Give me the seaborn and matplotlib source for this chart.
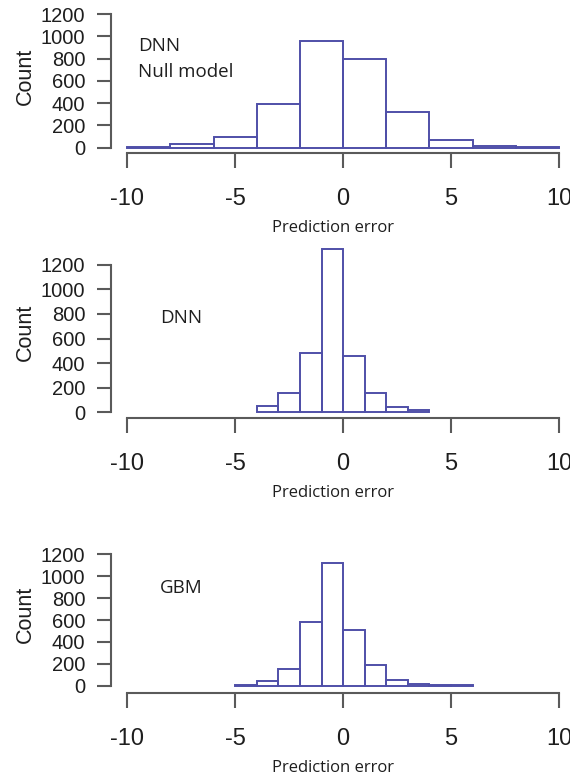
import matplotlib
matplotlib.use("Agg")
import matplotlib.pyplot as plt
import seaborn as sns
import numpy as np
import pandas as pd

# Histogram bins and counts of the prediction errors for each model
null_edges = [-10, -8, -6, -4, -2, 0, 2, 4, 6, 8, 10]
null_counts = [5, 30, 100, 390, 960, 800, 320, 70, 15, 5]

dnn_edges = [-4, -3, -2, -1, 0, 1, 2, 3, 4]
dnn_counts = [55, 160, 480, 1330, 455, 160, 40, 15]

gbm_edges = [-5, -4, -3, -2, -1, 0, 1, 2, 3, 4, 5, 6]
gbm_counts = [10, 40, 150, 580, 1120, 510, 185, 50, 20, 5, 5]

x_ticks = [-10, -5, 0, 5, 10]
y_ticks = [0, 200, 400, 600, 800, 1000, 1200]
panel_titles = [["DNN", "Null model"], ["DNN"], ["GBM"]]

W, H = 570, 778
BAR = "#4f4fa8"
AXIS = "#5a5a5a"
TEXT = "#1e1e1e"
PX = 72 / 100  # points per pixel

sns.set_style("white")
plt.rcParams["font.family"] = ["Liberation Sans", "DejaVu Sans"]
plt.rcParams["axes.unicode_minus"] = False

fig = plt.figure(figsize=(W / 100, H / 100), dpi=100)

# pixel layout of each panel: y of 1200 tick, y of 0 tick, x-axis line, label anchors
layout = [
    dict(top=14.0, zero=147.7, xaxis=153.3, count_y=76, title_x=138, title_y=[51, 77]),
    dict(top=264.7, zero=412.3, xaxis=418.3, count_y=332, title_x=160, title_y=[323]),
    dict(top=554.3, zero=685.7, xaxis=693.3, count_y=614, title_x=160, title_y=[593]),
]
data = [(null_edges, null_counts), (dnn_edges, dnn_counts), (gbm_edges, gbm_counts)]

x_left, x_right = 127.3, 559.0
y_spine_x = 110.7

for (edges, counts), lay, titles in zip(data, layout, panel_titles):
    ax = fig.add_axes([x_left / W, 1 - lay["zero"] / H,
                       (x_right - x_left) / W, (lay["zero"] - lay["top"]) / H])
    e = np.asarray(edges, dtype=float)
    df = pd.DataFrame({"error": (e[:-1] + e[1:]) / 2, "n": counts})
    sns.histplot(data=df, x="error", weights="n", bins=list(edges), ax=ax, fill=False,
                 color=BAR, linewidth=1.4, element="bars")
    for p in ax.patches:
        p.set_clip_on(False)

    ax.set_xlim(-10, 10)
    ax.set_ylim(0, 1200)
    ax.set_xticks(x_ticks)
    ax.set_yticks(y_ticks)
    ax.set_xlabel("")
    ax.set_ylabel("")

    for s in ("top", "right"):
        ax.spines[s].set_visible(False)
    ax.spines["left"].set_position(("outward", (x_left - y_spine_x) * PX))
    ax.spines["left"].set_bounds(0, 1200)
    ax.spines["bottom"].set_position(("outward", (lay["xaxis"] - lay["zero"]) * PX))
    ax.spines["bottom"].set_bounds(-10, 10)
    for s in ("left", "bottom"):
        ax.spines[s].set_color(AXIS)
        ax.spines[s].set_linewidth(1.5)

    ax.tick_params(axis="x", direction="out", length=10.5, width=1.5, color=AXIS,
                   pad=14.5, labelsize=17, labelcolor=TEXT, bottom=True)
    ax.tick_params(axis="y", direction="out", length=10, width=1.5, color=AXIS,
                   pad=8.4, labelsize=14.5, labelcolor=TEXT, left=True)
    ax.patch.set_alpha(0)

    fig.text(25 / W, 1 - lay["count_y"] / H, "Count", rotation=90,
             ha="center", va="center", fontsize=15.5, color=TEXT)
    fig.text(333 / W, 1 - (lay["xaxis"] + 79) / H, "Prediction error",
             ha="center", va="baseline", fontsize=12, color=TEXT,
             family=["Open Sans", "DejaVu Sans"])
    for t, ty in zip(titles, lay["title_y"]):
        fig.text(lay["title_x"] / W, 1 - ty / H, t, ha="left", va="baseline",
                 fontsize=13.5, color=TEXT, family=["Open Sans", "DejaVu Sans"])

fig.savefig("out.png", dpi=100)
